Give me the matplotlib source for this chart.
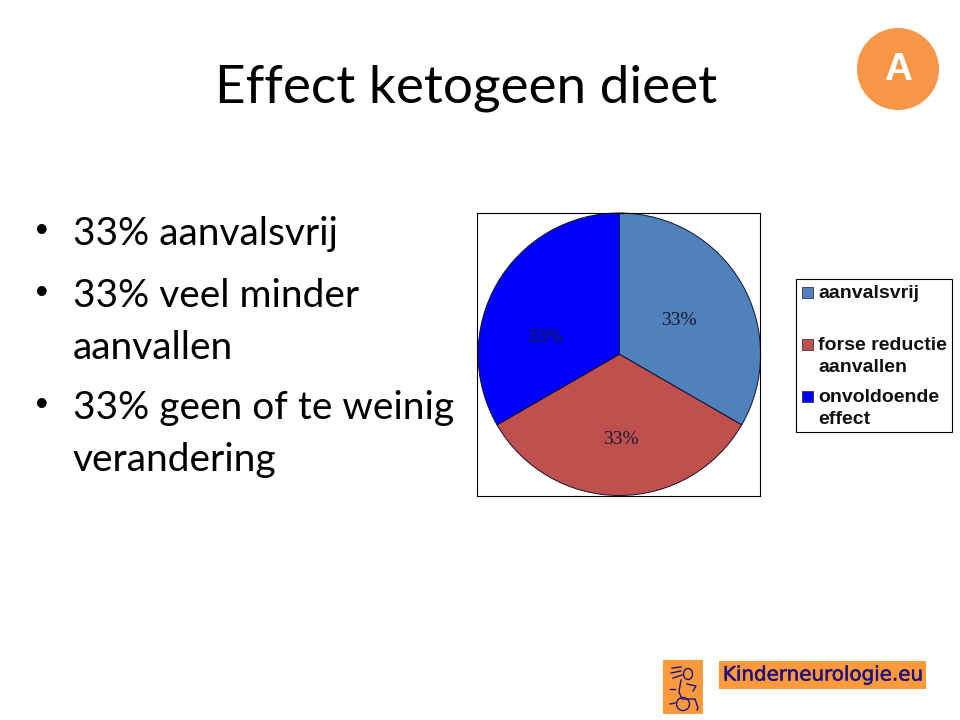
import matplotlib
matplotlib.use("Agg")
import matplotlib.pyplot as plt
import matplotlib.patheffects as pe
from matplotlib.patches import Rectangle, Circle, Ellipse

# data
title = "Effect ketogeen dieet"
bullets = ["33% aanvalsvrij", "33% veel minder\naanvallen", "33% geen of te weinig\nverandering"]
categories = ["aanvalsvrij", "forse reductie\naanvallen", "onvoldoende\neffect"]
values = [33, 33, 33]
colors = ["#4F81BD", "#C0504D", "#0000FF"]

# plaatsing van de percentages in de taart (asco\u00f6rdinaten)
label_pos = [(0.425, 0.24), (0.015, -0.60), (-0.52, 0.12)]

W, H = 960, 720
fig = plt.figure(figsize=(W / 100, H / 100), dpi=100, facecolor="white")

# laag in pixels voor de tekst van de dia
bg = fig.add_axes([0, 0, 1, 1])
bg.set_xlim(0, W)
bg.set_ylim(H, 0)
bg.axis("off")

slide_font = "Lato"
bg.text(466.5, 88, title, fontsize=38.2, family=slide_font, ha="center", va="center", color="black")

bullet_y = [234, 296, 408]
for y, b in zip(bullet_y, bullets):
    bg.text(42, y - 1, "\u2022", fontsize=24, family="DejaVu Sans", ha="center", va="center")
    for i, line in enumerate(b.split("\n")):
        bg.text(73, y + i * 52, line, fontsize=28, family=slide_font, ha="left", va="center", color="black")

# badge A
bg.add_patch(Circle((898, 69), 41, fc="#F79646", ec="none"))
bg.text(898, 70, "A", fontsize=28, family="Liberation Sans", weight="bold", color="white", ha="center", va="center")

# taart
ax = fig.add_axes([477 / W, 1 - 495.5 / H, 283 / W, 282.5 / H])
wedges, _, autotexts = ax.pie(values, colors=colors, startangle=90, counterclock=False, radius=1,
                              center=(0.006, 0), autopct="%.0f%%",
                              wedgeprops={"edgecolor": "#101030", "linewidth": 0.7},
                              textprops={"family": "Liberation Serif", "fontsize": 14, "color": "#1a1a30"})
for t, p in zip(autotexts, label_pos):
    t.set_position(p)
ax.set_xlim(-1, 1)
ax.set_ylim(-1, 1)
ax.set_frame_on(True)
for s in ax.spines.values():
    s.set_linewidth(0.8)
    s.set_color("black")

# legenda
bg.add_patch(Rectangle((795.5, 278.5), 156.5, 153, fc="white", ec="black", lw=0.8))
legend_y = [293, 345, 397]
for y, c, name, w in zip(legend_y, colors, categories, wedges):
    bg.add_patch(Rectangle((802, y - 6), 11, 11, fc=c, ec="#333344", lw=0.6))
    lines = name.split("\n")
    for i, line in enumerate(lines):
        bg.text(818.5, y + i * 22.5, line, fontsize=14, family="Liberation Sans", weight="bold",
                ha="left", va="center", color="#111111")

# logo
navy = "#1F1080"
bg.add_patch(Rectangle((663, 660), 40, 54, fc="#FF9A3C", ec="none"))
bg.add_patch(Circle((683, 704), 6.5, fc="none", ec=navy, lw=1))
bg.add_patch(Ellipse((688, 674), 9, 11, fc="none", ec=navy, lw=1))
bg.plot([681, 679, 682, 695, 698, 697], [680, 692, 699, 699, 708, 710], color=navy, lw=1)
bg.plot([672, 681], [668, 667], color=navy, lw=1)
bg.plot([671, 681], [673, 671], color=navy, lw=1)
bg.plot([673, 682], [678, 675], color=navy, lw=1)
bg.plot([687, 696, 693], [684, 686, 691], color=navy, lw=1)
bg.plot([670, 675], [689, 689], color=navy, lw=1)
bg.plot([670, 675], [704, 703], color=navy, lw=1)
bg.add_patch(Rectangle((719, 661), 207, 28, fc="#FF9A3C", ec="none"))
bg.text(823, 675, "Kinderneurologie.eu", fontsize=14.3, family="DejaVu Sans", color=navy,
        ha="center", va="center", path_effects=[pe.withStroke(linewidth=0.35, foreground=navy)])

fig.savefig("out.png", dpi=100)
